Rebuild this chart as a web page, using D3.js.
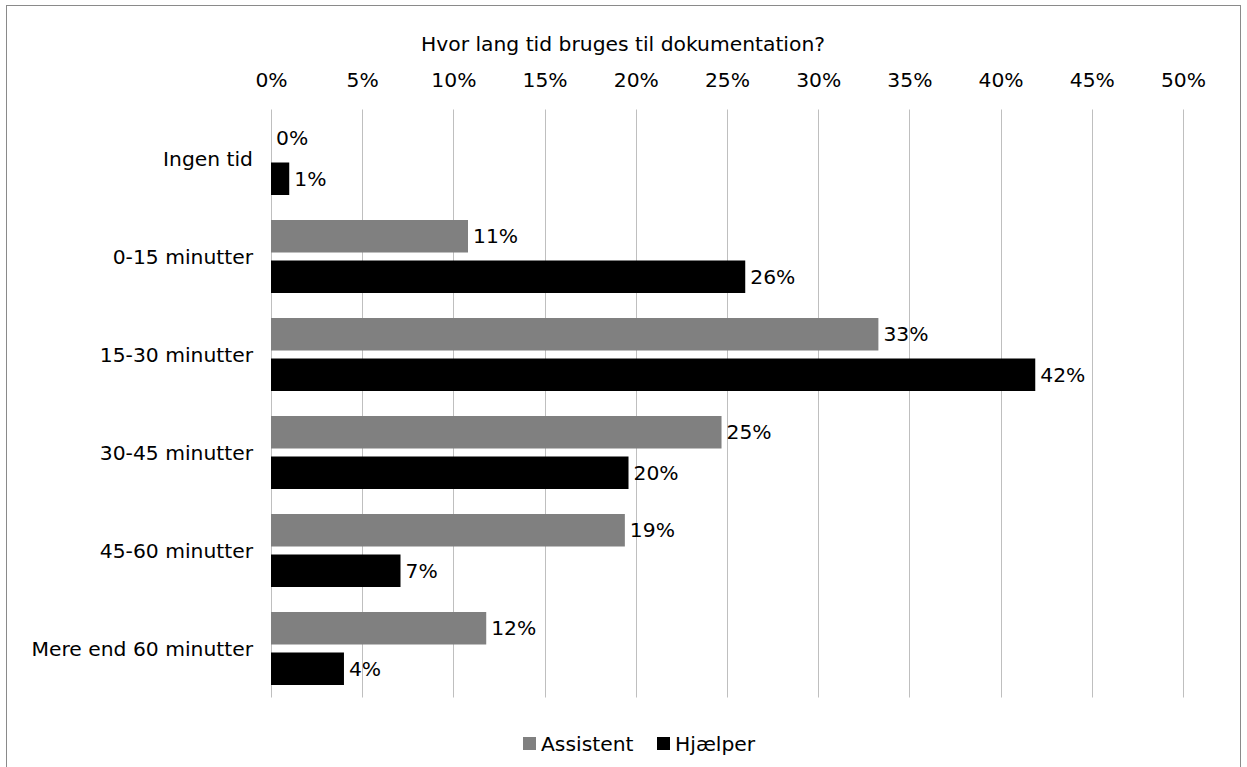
<!DOCTYPE html>
<html><head><meta charset="utf-8">
<script src="https://cdn.jsdelivr.net/npm/d3@7"></script>
<style>body{margin:0;background:#fff;} text{font-family:"DejaVu Sans",Verdana,sans-serif;}</style>
</head><body><svg id="c" width="1247" height="767"></svg>
<script>
const categories = ["Ingen tid","0-15 minutter","15-30 minutter","30-45 minutter","45-60 minutter","Mere end 60 minutter"];
const series = ["Assistent","Hjælper"];
const assistent = [0, 10.8, 33.3, 24.7, 19.4, 11.8];
const hjaelper = [1.0, 26.0, 41.9, 19.6, 7.1, 4.0];
const tickValues = [0,5,10,15,20,25,30,35,40,45,50];
const colors = ["#808080","#000000"];
const title = "Hvor lang tid bruges til dokumentation?";
const FS = 20.3;

const svg = d3.select("#c");
svg.append("rect").attr("x",6.5).attr("y",5.5).attr("width",1234).attr("height",800)
  .attr("fill","#fff").attr("stroke","#8a8a8a").attr("stroke-width",1);

const x = d3.scaleLinear().domain([0,50]).range([271,1183]);
const y = d3.scaleBand().domain(categories).range([109.5,697.5]).padding(0);
const ys = d3.scaleBand().domain(series).range([12.5,85.5]).paddingInner(8/40.5).paddingOuter(0);

// gridlines
svg.append("g").selectAll("line").data(tickValues).join("line")
  .attr("x1",d=>Math.round(x(d))+0.5).attr("x2",d=>Math.round(x(d))+0.5)
  .attr("y1",109.5).attr("y2",697.5).attr("stroke","#bfbfbf").attr("stroke-width",1);

// top axis labels
const ax = svg.append("g").attr("transform","translate(0,87)")
  .call(d3.axisTop(x).tickValues(tickValues).tickFormat(d=>d+"%").tickSize(0).tickPadding(0));
ax.select(".domain").remove();
ax.selectAll("text").attr("font-size",FS).attr("fill","#000").attr("dy",0)
  .style("font-family","'DejaVu Sans',Verdana,sans-serif");

// title
svg.append("text").attr("x",623).attr("y",51).attr("text-anchor","middle")
  .attr("font-size",FS).attr("fill","#000").text(title);

// category labels
svg.append("g").selectAll("text").data(categories).join("text")
  .attr("x",253).attr("y",d=>y(d)+y.bandwidth()/2).attr("dy","0.35em")
  .attr("text-anchor","end").attr("font-size",FS).attr("fill","#000").text(d=>d);

const data = [];
categories.forEach((c,i)=>{
  data.push({cat:c, s:series[0], v:assistent[i], col:colors[0]});
  data.push({cat:c, s:series[1], v:hjaelper[i], col:colors[1]});
});

svg.append("g").selectAll("rect").data(data).join("rect")
  .attr("x",x(0)).attr("y",d=>y(d.cat)+ys(d.s))
  .attr("width",d=>x(d.v)-x(0)).attr("height",ys.bandwidth()).attr("fill",d=>d.col);

svg.append("g").selectAll("text").data(data).join("text")
  .attr("x",d=>x(d.v)+5).attr("y",d=>y(d.cat)+ys(d.s)+ys.bandwidth()/2).attr("dy","0.35em")
  .attr("font-size",FS).attr("fill","#000").text(d=>Math.round(d.v)+"%");

// legend
const leg = svg.append("g");
const legX = [523, 657];
series.forEach((s,i)=>{
  leg.append("rect").attr("x",legX[i]).attr("y",737).attr("width",13).attr("height",13).attr("fill",colors[i]);
  leg.append("text").attr("x",legX[i]+18).attr("y",743.5).attr("dy","0.35em").attr("font-size",FS).attr("fill","#000").text(s);
});
</script></body></html>
